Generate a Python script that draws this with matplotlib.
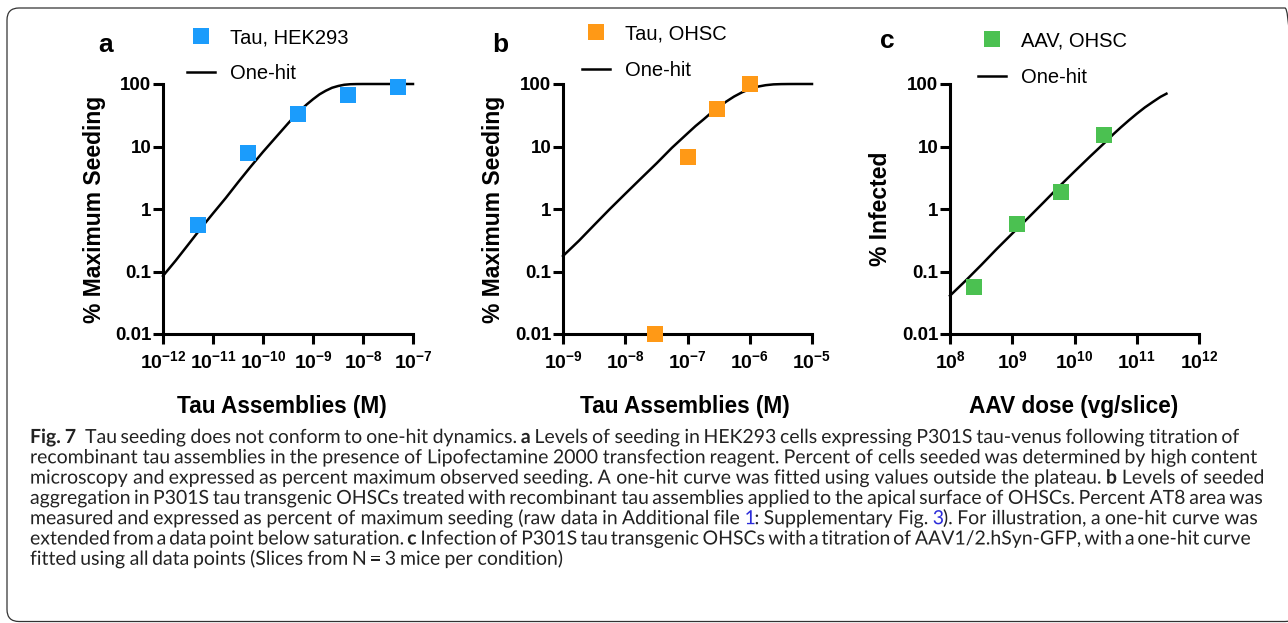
import re

import matplotlib
matplotlib.use("Agg")
import matplotlib.pyplot as plt
import matplotlib.ticker as ticker
from matplotlib.font_manager import FontProperties
from matplotlib.lines import Line2D
from matplotlib.patches import FancyBboxPatch, PathPatch
from matplotlib.textpath import TextPath
from matplotlib.transforms import IdentityTransform

plt.rcParams["font.family"] = ["Liberation Sans", "DejaVu Sans"]
plt.rcParams["mathtext.fontset"] = "custom"
plt.rcParams["mathtext.rm"] = "Liberation Sans"
plt.rcParams["mathtext.bf"] = "Liberation Sans:bold"

# ---- data ----
# a: tau assemblies in HEK293 cells
tau_hek_x = [5e-12, 5e-11, 5e-10, 5e-9, 5e-8]
tau_hek_y = [0.55, 7.8, 33, 67, 89]
onehit_a_x = [1e-12, 1.8e-12, 3.2e-12, 5.6e-12, 1e-11, 1.8e-11, 3.2e-11, 5.6e-11,
              1e-10, 1.8e-10, 3.2e-10, 4.2e-10, 5.6e-10, 7.5e-10, 1e-9, 1.35e-9,
              1.8e-9, 2.4e-9, 3.2e-9, 4.2e-9, 5.6e-9, 7.5e-9, 1e-8, 1e-7]
onehit_a_y = [0.085, 0.15, 0.27, 0.48, 0.85, 1.5, 2.7, 4.7,
              8.2, 14, 23.6, 30, 38, 47.1, 57, 68.3,
              78, 87, 93, 97.2, 99.2, 99.8, 100, 100]

# b: tau assemblies on OHSCs
tau_ohsc_x = [3e-8, 1e-7, 3e-7, 1e-6]
tau_ohsc_y = [0.01, 6.9, 40, 99]
onehit_b_x = [1e-9, 1.8e-9, 3.2e-9, 5.6e-9, 1e-8, 1.8e-8, 3.2e-8, 5.6e-8,
              1e-7, 1.35e-7, 1.8e-7, 2.4e-7, 3.2e-7, 4.2e-7, 5.6e-7, 7.5e-7,
              1e-6, 1.35e-6, 1.8e-6, 2.4e-6, 3.2e-6, 4.2e-6, 5.6e-6, 1e-5]
onehit_b_y = [0.177, 0.31, 0.56, 0.99, 1.75, 3.1, 5.4, 9.5,
              16.2, 21.3, 27, 34.6, 42.9, 52.4, 63, 73.5,
              83, 90.8, 95.7, 98.6, 99.6, 99.9, 100, 100]

# c: AAV on OHSCs
aav_x = [2.4e8, 1.2e9, 6e9, 3e10]
aav_y = [0.056, 0.58, 1.85, 15.5]
onehit_c_x = [1e8, 1.8e8, 3.2e8, 5.6e8, 1e9, 1.8e9, 3.2e9, 5.6e9,
              1e10, 1.8e10, 3.2e10, 4.2e10, 5.6e10, 7.5e10, 1e11, 1.35e11,
              1.8e11, 2.4e11, 3e11]
onehit_c_y = [0.041, 0.072, 0.128, 0.228, 0.405, 0.72, 1.28, 2.26,
              3.98, 7.0, 12.0, 15.7, 20.4, 26.3, 33.4, 42.2,
              51.4, 62.2, 70]

y_ticks = [0.01, 0.1, 1, 10, 100]
y_ticklabels = ["0.01", "0.1", "1", "10", "100"]

W, H = 1288, 623
fig = plt.figure(figsize=(W / 100, H / 100), dpi=100)


def px_axes(x0, y0, x1, y1):
    # pixel box measured from the top-left corner
    return fig.add_axes([x0 / W, 1 - y1 / H, (x1 - x0) / W, (y1 - y0) / H])


def pow10_label(v, pos):
    exp = 0
    while v >= 10 ** (exp + 0.5):
        exp += 1
    while v < 10 ** (exp - 0.5):
        exp -= 1
    return r"$\mathbf{10^{%d}}$" % exp


panels = [
    dict(box=(163, 84, 413, 334), xlim=(1e-12, 1e-7), letter="a", letter_xy=(106, 52),
         x=tau_hek_x, y=tau_hek_y, cx=onehit_a_x, cy=onehit_a_y,
         color="#1b9cfc", label="Tau, HEK293", leg_xy=(187, 28),
         xlabel="Tau Assemblies (M)", xlabel_x=0.476, ylabel="% Maximum Seeding",
         ylabel_x=-0.276),
    dict(box=(563, 84, 812, 334), xlim=(1e-9, 1e-5), letter="b", letter_xy=(500, 52),
         x=tau_ohsc_x, y=tau_ohsc_y, cx=onehit_b_x, cy=onehit_b_y,
         color="#ff9916", label="Tau, OHSC", leg_xy=(582, 24.5),
         xlabel="Tau Assemblies (M)", xlabel_x=0.491, ylabel="% Maximum Seeding",
         ylabel_x=-0.279),
    dict(box=(950, 84, 1199, 334), xlim=(1e8, 1e12), letter="c", letter_xy=(887, 48),
         x=aav_x, y=aav_y, cx=onehit_c_x, cy=onehit_c_y,
         color="#4bc151", label="AAV, OHSC", leg_xy=(978, 31.5),
         xlabel="AAV dose (vg/slice)", xlabel_x=0.495, ylabel="% Infected",
         ylabel_x=-0.281),
]

for p in panels:
    ax = px_axes(*p["box"])
    ax.plot(p["cx"], p["cy"], color="black", lw=1.8, zorder=3, clip_on=False,
            solid_joinstyle="round")
    ax.plot(p["x"], p["y"], ls="none", marker="s", ms=11, mew=0,
            color=p["color"], zorder=5, clip_on=False)

    ax.set_xscale("log")
    ax.set_yscale("log")
    ax.set_xlim(*p["xlim"])
    ax.set_ylim(0.01, 100)
    ax.xaxis.set_minor_locator(ticker.NullLocator())
    ax.yaxis.set_minor_locator(ticker.NullLocator())
    ax.xaxis.set_major_locator(ticker.LogLocator(base=10, numticks=10))
    ax.xaxis.set_major_formatter(ticker.FuncFormatter(pow10_label))
    ax.set_yticks(y_ticks)
    ax.set_yticklabels(y_ticklabels)

    for s in ("top", "right"):
        ax.spines[s].set_visible(False)
    for s in ("left", "bottom"):
        ax.spines[s].set_linewidth(2.2)
    ax.tick_params(axis="both", width=2.2, length=7.5, color="black")
    ax.tick_params(axis="y", pad=1, labelsize=13.5)
    ax.tick_params(axis="x", pad=4, labelsize=14)
    for t in ax.get_yticklabels():
        t.set_fontweight("bold")

    ax.set_xlabel(p["xlabel"], fontsize=16.3, fontweight="bold")
    ax.xaxis.label.set_va("center")
    ax.xaxis.set_label_coords(p["xlabel_x"], -0.292)
    ax.set_ylabel(p["ylabel"], fontsize=16.5, fontweight="bold")
    ax.yaxis.label.set_va("center")
    ax.yaxis.set_label_coords(p["ylabel_x"], 0.5)

    lx, ly = p["letter_xy"]
    fig.text(lx / W, 1 - ly / H, p["letter"], fontsize=19, fontweight="bold",
             ha="center", va="baseline")

    handles = [Line2D([], [], marker="s", ls="none", color=p["color"], ms=11, mew=0),
               Line2D([], [], color="black", lw=1.8)]
    gx, gy = p["leg_xy"]
    ax.legend(handles, [p["label"], "One-hit"], loc="upper left",
              bbox_to_anchor=(gx / W, 1 - gy / H), bbox_transform=fig.transFigure,
              frameon=False, borderpad=0, borderaxespad=0, handlelength=1.4,
              handletextpad=0.74, labelspacing=0.86, fontsize=14.5)

# ---- caption ----
INK = "#222222"
LINK = "#2b2bd9"
caption = [
    [("Fig. 7", "bold", INK), ("  Tau seeding does not conform to one-hit dynamics. ", "normal", INK),
     ("a", "bold", INK),
     (" Levels of seeding in HEK293 cells expressing P301S tau-venus following titration of", "normal", INK)],
    [("recombinant tau assemblies in the presence of Lipofectamine 2000 transfection reagent. "
      "Percent of cells seeded was determined by high content", "normal", INK)],
    [("microscopy and expressed as percent maximum observed seeding. A one-hit curve was fitted "
      "using values outside the plateau. ", "normal", INK),
     ("b", "bold", INK), (" Levels of seeded", "normal", INK)],
    [("aggregation in P301S tau transgenic OHSCs treated with recombinant tau assemblies applied "
      "to the apical surface of OHSCs. Percent AT8 area was", "normal", INK)],
    [("measured and expressed as percent of maximum seeding (raw data in Additional file ", "normal", INK),
     ("1", "normal", LINK), (": Supplementary Fig. ", "normal", INK), ("3", "normal", LINK),
     ("). For illustration, a one-hit curve was", "normal", INK)],
    [("extended from a data point below saturation. ", "normal", INK), ("c", "bold", INK),
     (" Infection of P301S tau transgenic OHSCs with a titration of AAV1/2.hSyn-GFP, with a one-hit curve",
      "normal", INK)],
    [("fitted using all data points (Slices from N = 3 mice per condition)", "normal", INK)],
]
# right end of each caption line in the reference (None = ragged last line)
caption_ends = [1239, 1257, 1263, 1262, 1257, 1250, None]
cap_left = 30

# caption words are drawn as outlines so every word sits on the exact same baseline
CAP_PROPS = {w: FontProperties(family="Lato", weight=w) for w in ("normal", "bold")}


def word_width(s, size_px, weight):
    return TextPath((0, 0), s, size=size_px, prop=CAP_PROPS[weight]).get_extents().x1


def tokens_of(runs):
    # split runs into words, keeping the number of spaces before each word
    toks, pending = [], 0
    for text, weight, color in runs:
        for part in re.split(r"( +)", text):
            if not part:
                continue
            if part.startswith(" "):
                pending += len(part)
            else:
                toks.append((part, weight, color, pending))
                pending = 0
    return toks


def layout(toks, size_px):
    space = word_width("a a", size_px, "normal") - word_width("aa", size_px, "normal")
    widths = [word_width(w, size_px, wt) for w, wt, _, _ in toks]
    natural = sum(widths) + space * sum(n for *_, n in toks)
    return space, widths, natural


# font size so the lines are on average the right length
ratios = []
for runs, end in zip(caption, caption_ends):
    if end is not None:
        ratios.append((end - cap_left) / layout(tokens_of(runs), 16)[2])
cap_px = 16 * sum(ratios) / len(ratios)

for i, (runs, end) in enumerate(zip(caption, caption_ends)):
    toks = tokens_of(runs)
    space, widths, natural = layout(toks, cap_px)
    gaps = sum(n for *_, n in toks)
    extra = 0 if end is None or gaps == 0 else (end - cap_left - natural) / gaps
    x, y = cap_left, 443 + i * 20.3
    for (word, weight, color, n), w in zip(toks, widths):
        x += n * (space + extra)
        path = TextPath((x, H - y), word, size=cap_px, prop=CAP_PROPS[weight])
        fig.patches.append(PathPatch(path, transform=IdentityTransform(),
                                     facecolor=color, edgecolor="none", lw=0))
        x += w

# rounded frame around figure + caption
frame = FancyBboxPatch((7, 1.5), 1290, H - 8 - 1.5, boxstyle="round,pad=0,rounding_size=12",
                       transform=IdentityTransform(), facecolor="none",
                       edgecolor="#333333", lw=0.9)
fig.patches.append(frame)

fig.savefig("out.png", dpi=100)
